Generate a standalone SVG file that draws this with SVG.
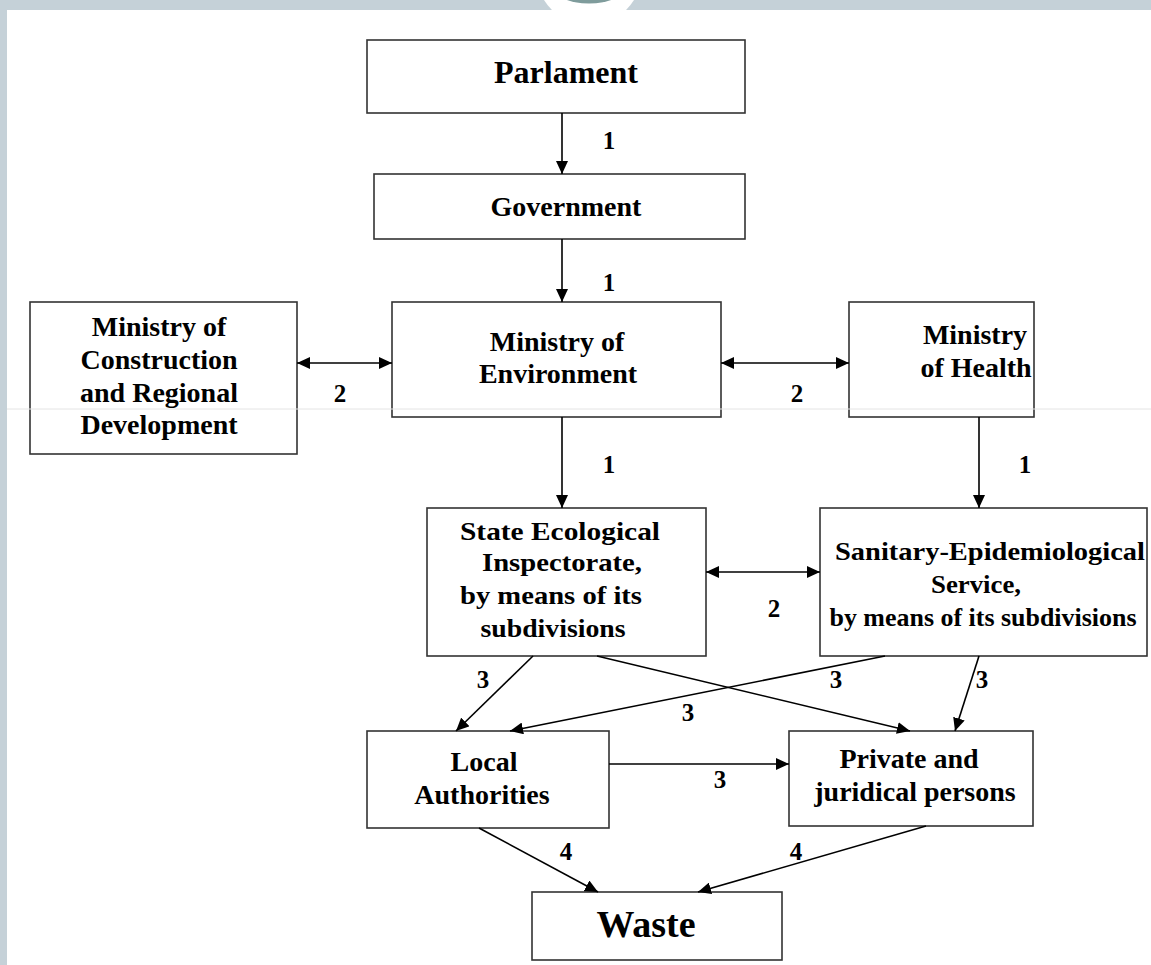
<svg xmlns="http://www.w3.org/2000/svg" width="1151" height="965" viewBox="0 0 1151 965">
<defs>
<style>
.box{fill:#fff;stroke:#333;stroke-width:1.6}
.t{font-family:"Liberation Serif","Times New Roman",serif;font-weight:bold;fill:#000;text-anchor:middle}
.n{font-size:28px}
.s{font-size:25px}
.lbl{font-family:"Liberation Serif","Times New Roman",serif;font-weight:bold;font-size:25px;fill:#000;text-anchor:middle}
.c{stroke:#000;stroke-width:1.6;fill:none}
</style>
<marker id="ah" markerUnits="userSpaceOnUse" markerWidth="13" markerHeight="12" refX="13" refY="6" orient="auto-start-reverse" viewBox="0 0 13 12">
<path d="M0,0 L13,6 L0,12 z" fill="#000"/>
</marker>
<clipPath id="band"><rect x="0" y="0" width="1151" height="10"/></clipPath>
</defs>
<rect x="0" y="0" width="1151" height="965" fill="#fff"/>
<rect x="0" y="0" width="1151" height="10" fill="#C5D1D8"/>
<rect x="0" y="0" width="7" height="965" fill="#C5D1D8"/>
<circle cx="589" cy="-28" r="53" fill="#fff"/>
<circle cx="589" cy="-68" r="71.5" fill="#7F9C9C" clip-path="url(#band)"/>

<g id="parlament"><rect class="box" x="367" y="40" width="378" height="73"/><text class="t" x="566" y="83" font-size="32">Parlament</text></g>
<g id="government"><rect class="box" x="374" y="174" width="371" height="65"/><text class="t n" x="566" y="216">Government</text></g>
<g id="ministry-construction"><rect class="box" x="30" y="302" width="267" height="152"/>
<text class="t n" x="159" y="336">Ministry of</text><text class="t n" x="159" y="369">Construction</text><text class="t n" x="159" y="402">and Regional</text><text class="t n" x="159" y="434">Development</text></g>
<g id="ministry-environment"><rect class="box" x="392" y="302" width="329" height="115"/>
<text class="t n" x="557" y="351">Ministry of</text><text class="t n" x="558" y="383">Environment</text></g>
<g id="ministry-health"><rect class="box" x="849" y="302" width="185" height="115"/>
<text class="t n" x="975" y="344">Ministry</text><text class="t n" x="976" y="377">of Health</text></g>
<g id="state-ecological"><rect class="box" x="427" y="508" width="279" height="148"/>
<text class="t s" x="560" y="540" textLength="200" lengthAdjust="spacingAndGlyphs">State Ecological</text>
<text class="t s" x="562" y="571" textLength="160" lengthAdjust="spacingAndGlyphs">Inspectorate,</text>
<text class="t s" x="551" y="604" textLength="182" lengthAdjust="spacingAndGlyphs">by means of its</text>
<text class="t s" x="553" y="637" textLength="145" lengthAdjust="spacingAndGlyphs">subdivisions</text></g>
<g id="sanitary"><rect class="box" x="820" y="508" width="327" height="148"/>
<text class="t s" x="990" y="560" textLength="310" lengthAdjust="spacingAndGlyphs">Sanitary-Epidemiological</text>
<text class="t s" x="976" y="593" textLength="90" lengthAdjust="spacingAndGlyphs">Service,</text>
<text class="t s" x="983" y="626" textLength="307" lengthAdjust="spacingAndGlyphs">by means of its subdivisions</text></g>
<g id="local-authorities"><rect class="box" x="367" y="731" width="242" height="97"/>
<text class="t n" x="484" y="771">Local</text><text class="t n" x="482" y="804">Authorities</text></g>
<g id="private"><rect class="box" x="789" y="731" width="244" height="95"/>
<text class="t n" x="909" y="768">Private and</text><text class="t n" x="915" y="801">juridical persons</text></g>
<g id="waste"><rect class="box" x="532" y="892" width="250" height="68"/>
<text class="t" x="646" y="937" font-size="38">Waste</text></g>

<line x1="7" y1="409" x2="1151" y2="409" stroke="#e4e4e4" stroke-width="1"/>

<g id="connectors">
<line class="c" x1="562" y1="113" x2="562" y2="174" marker-end="url(#ah)"/>
<line class="c" x1="562" y1="239" x2="562" y2="302" marker-end="url(#ah)"/>
<line class="c" x1="297" y1="363" x2="392" y2="363" marker-start="url(#ah)" marker-end="url(#ah)"/>
<line class="c" x1="721" y1="363" x2="849" y2="363" marker-start="url(#ah)" marker-end="url(#ah)"/>
<line class="c" x1="562" y1="417" x2="562" y2="508" marker-end="url(#ah)"/>
<line class="c" x1="979" y1="417" x2="979" y2="508" marker-end="url(#ah)"/>
<line class="c" x1="706" y1="572" x2="820" y2="572" marker-start="url(#ah)" marker-end="url(#ah)"/>
<line class="c" x1="533" y1="656" x2="456" y2="731" marker-end="url(#ah)"/>
<line class="c" x1="597" y1="656" x2="910" y2="731" marker-end="url(#ah)"/>
<line class="c" x1="885" y1="656" x2="510" y2="731" marker-end="url(#ah)"/>
<line class="c" x1="979" y1="656" x2="955" y2="731" marker-end="url(#ah)"/>
<line class="c" x1="609" y1="764" x2="789" y2="764" marker-end="url(#ah)"/>
<line class="c" x1="479" y1="828" x2="598" y2="892" marker-end="url(#ah)"/>
<line class="c" x1="926" y1="826" x2="698" y2="892" marker-end="url(#ah)"/>
<text class="lbl" x="609" y="149">1</text>
<text class="lbl" x="609" y="291">1</text>
<text class="lbl" x="340" y="402">2</text>
<text class="lbl" x="797" y="402">2</text>
<text class="lbl" x="609" y="473">1</text>
<text class="lbl" x="1025" y="473">1</text>
<text class="lbl" x="774" y="617">2</text>
<text class="lbl" x="483" y="688">3</text>
<text class="lbl" x="688" y="721">3</text>
<text class="lbl" x="836" y="688">3</text>
<text class="lbl" x="982" y="688">3</text>
<text class="lbl" x="720" y="788">3</text>
<text class="lbl" x="566" y="860">4</text>
<text class="lbl" x="796" y="860">4</text>
</g>
</svg>
